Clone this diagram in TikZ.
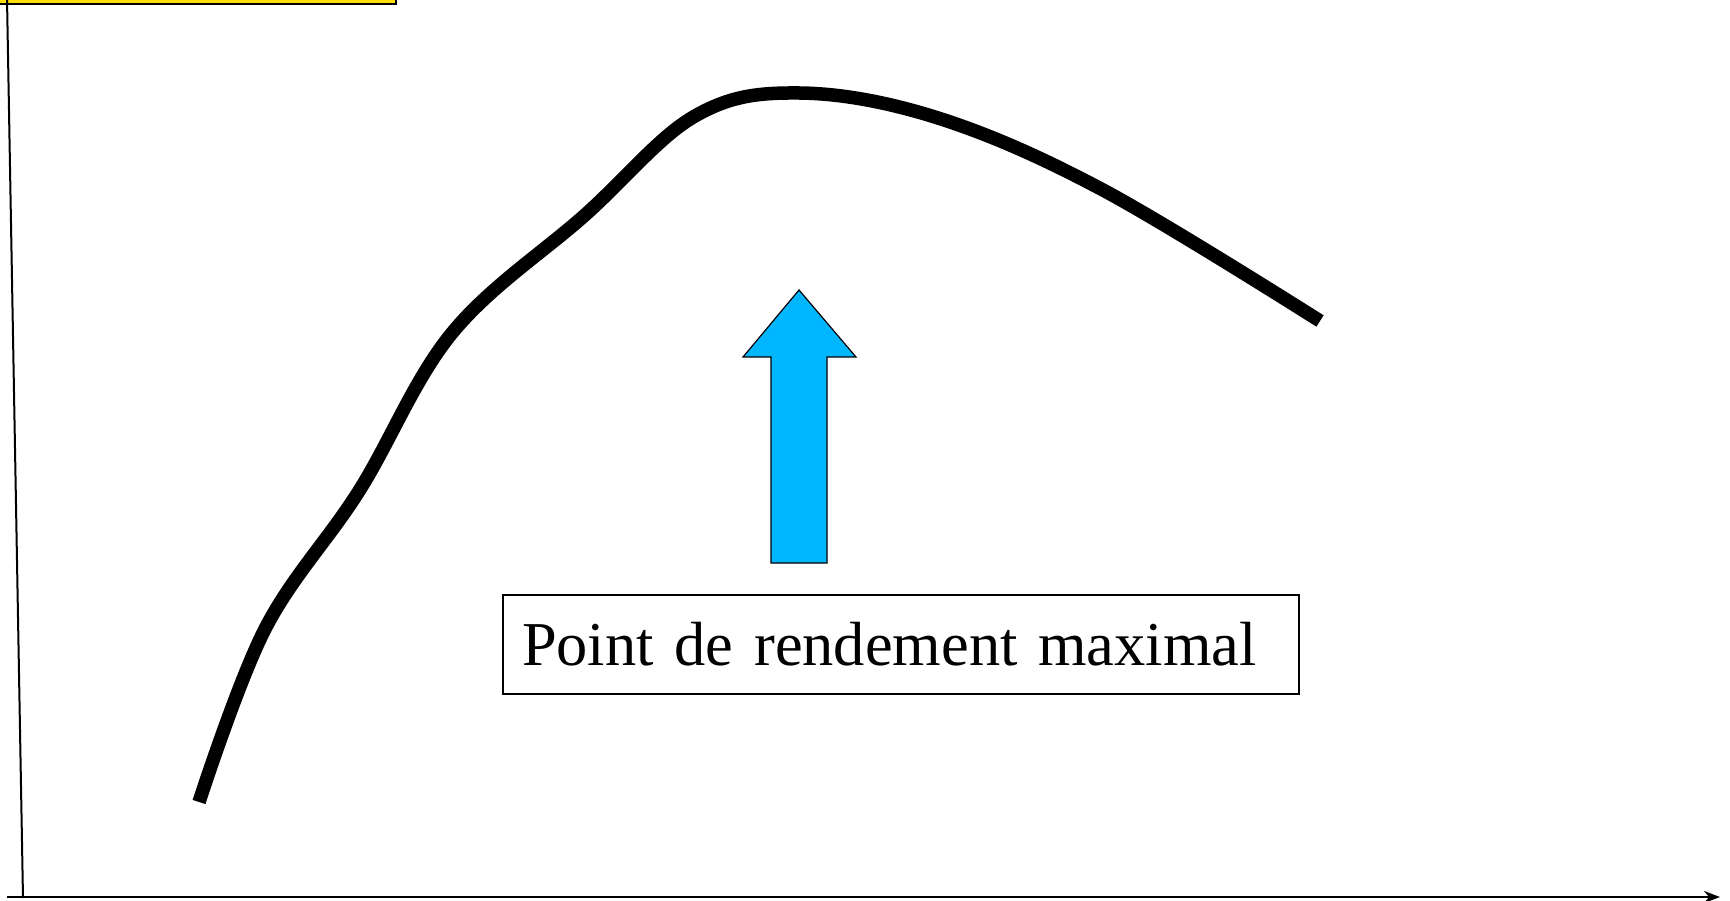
\documentclass[tikz,border=0pt]{standalone}
\usepackage{fontspec}
\setmainfont{Liberation Serif}
\usepackage{xcolor}
\usetikzlibrary{arrows.meta, positioning, calc}

\definecolor{titleyellow}{RGB}{255,221,0}
\definecolor{arrowblue}{RGB}{0,182,255}

\begin{document}
\begin{tikzpicture}[
  x=1pt, y=-1pt, >=Stealth,
  axis/.style={black, line width=2.4pt},
  curve/.style={black, line width=13.5pt, line join=round},
  lbl/.style={rectangle, draw=black, line width=1.2pt, fill=white,
              minimum width=796pt, minimum height=99pt,
              text width=758pt, align=left, inner xsep=19pt, inner ysep=0pt,
              font=\fontsize{62.4}{70}\selectfont}]
  \useasboundingbox (0,0) rectangle (1730,901);
  % title box, only its bottom edge shows
  \draw[fill=titleyellow, line width=2pt] (-10,-60) rectangle (396,4);
  % axes
  \coordinate (ytop) at (7,-2);
  \coordinate (orig) at (23,898);
  \coordinate (xleft) at (7,897);
  \coordinate (xend) at (1720,897);
  \draw[black, line width=2pt] (ytop) -- (orig);
  \draw[axis, -{Stealth[length=16pt, width=12pt]}] (xleft) -- (xend);
  % yield curve
  \draw[curve] plot[smooth, tension=0.6] coordinates {
    (199,802) (265,629) (359,491) (452,333) (585,215) (695,116)
    (799,93) (938,118) (1103,190) (1320,321)};
  % up arrow
  \draw[fill=arrowblue, line width=1.2pt, line join=miter]
    (799,290) -- (856,357) -- (827,357) -- (827,563) -- (771,563)
    -- (771,357) -- (743,357) -- cycle;
  % label
  \node[lbl] (peak) at (901,644.5) {Point de rendement maximal};
\end{tikzpicture}
\end{document}
